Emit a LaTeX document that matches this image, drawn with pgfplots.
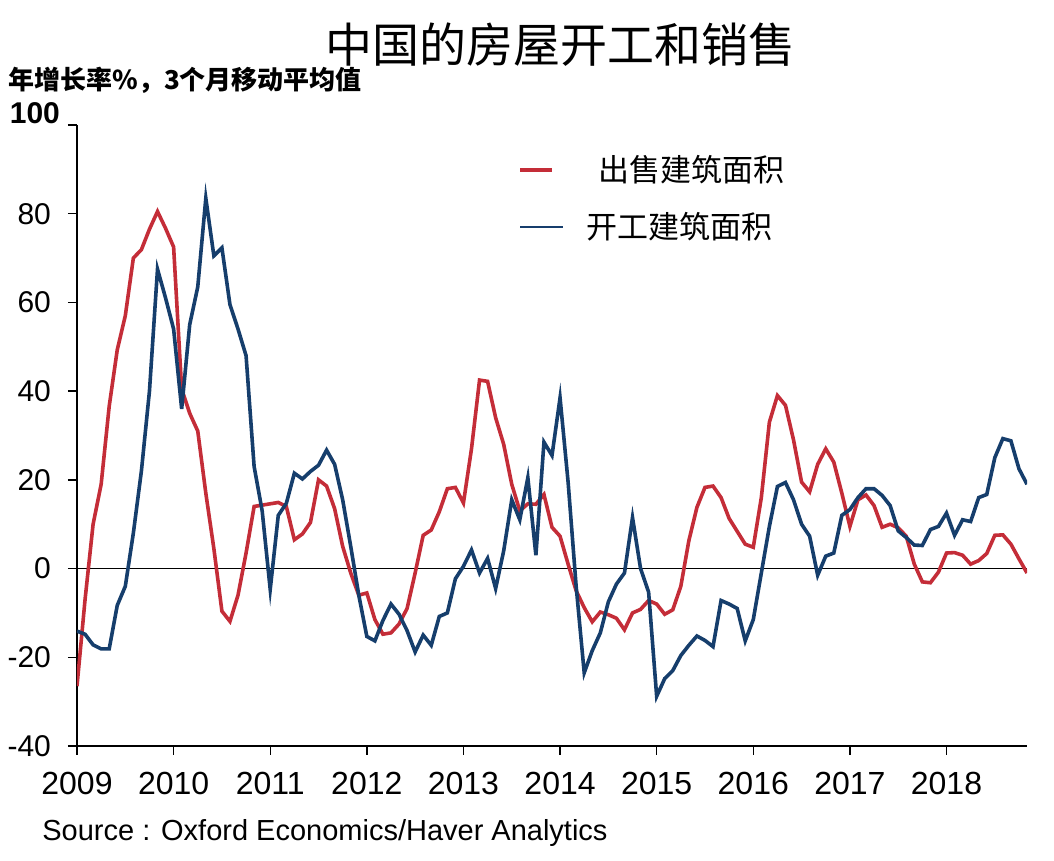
\documentclass[border=0pt]{standalone}
\usepackage{pgfplots}
\usepackage{pgfplotstable}
\pgfplotsset{compat=1.18}
\usepackage{fontspec}
\setmainfont{Liberation Sans}
\newfontfamily\cjk{Noto Sans CJK SC}

\definecolor{cRed}{RGB}{196,45,56}
\definecolor{cBlue}{RGB}{22,62,108}

% month index from Jan 2009, floor space sold (red), floor space started (blue)
\pgfplotstableread{
m red blue
0 -26.5 -14.1
1 -7.0 -14.8
2 10.0 -17.2
3 19.0 -18.1
4 36.6 -18.1
5 49.3 -8.3
6 57.0 -4.0
7 70.0 8.0
8 71.9 22.0
9 76.5 40.0
10 80.5 67.5
11 76.7 61.0
12 72.5 54.0
13 40.5 36.0
14 35.0 55.0
15 31.0 63.5
16 17.0 83.5
17 4.5 70.5
18 -9.6 72.3
19 -11.9 59.5
20 -6.0 54.0
21 3.5 48.0
22 14.0 23.0
23 14.3 13.0
24 14.6 -4.7
25 14.9 12.0
26 14.0 14.7
27 6.5 21.5
28 7.8 20.2
29 10.4 21.9
30 20.0 23.3
31 18.6 26.7
32 13.5 23.5
33 5.0 15.5
34 -1.0 5.0
35 -6.0 -6.0
36 -5.5 -15.3
37 -11.5 -16.3
38 -14.8 -11.7
39 -14.5 -8.0
40 -12.5 -10.3
41 -9.0 -14.0
42 -1.0 -18.8
43 7.5 -15.0
44 8.7 -17.3
45 12.8 -10.8
46 18.0 -10.0
47 18.3 -2.3
48 14.8 0.5
49 27.0 4.2
50 42.5 -1.0
51 42.2 2.3
52 34.0 -4.5
53 28.0 4.0
54 19.0 15.5
55 13.0 11.0
56 14.6 20.5
57 14.5 3.0
58 16.7 28.5
59 9.3 25.5
60 7.3 38.5
61 1.0 19.5
62 -5.0 -4.0
63 -8.8 -23.5
64 -12.0 -18.5
65 -9.8 -14.5
66 -10.4 -7.5
67 -11.2 -3.5
68 -13.8 -1.0
69 -10.0 11.5
70 -9.2 0.0
71 -7.2 -5.3
72 -8.0 -28.8
73 -10.3 -24.8
74 -9.3 -23.0
75 -4.0 -19.6
76 6.3 -17.3
77 13.8 -15.2
78 18.3 -16.2
79 18.6 -17.6
80 16.0 -7.2
81 11.3 -8.0
82 8.4 -9.0
83 5.5 -16.3
84 4.8 -11.5
85 16.0 -1.0
86 33.0 9.5
87 39.0 18.5
88 36.8 19.4
89 29.0 15.5
90 19.5 10.0
91 17.3 7.3
92 23.5 -1.5
93 27.0 2.8
94 24.0 3.5
95 17.0 12.0
96 9.5 13.3
97 15.5 16.0
98 16.6 18.0
99 14.2 18.0
100 9.3 16.5
101 10.0 14.2
102 9.2 8.5
103 7.3 7.0
104 1.0 5.3
105 -3.0 5.2
106 -3.2 8.8
107 -0.8 9.5
108 3.5 12.5
109 3.6 7.5
110 3.0 11.0
111 1.0 10.6
112 1.8 16.0
113 3.4 16.7
114 7.5 25.0
115 7.6 29.3
116 5.5 28.8
117 2.2 22.5
118 -1.0 19.0
}\housing

\begin{document}
\begin{tikzpicture}
\path[use as bounding box] (0,0) rectangle (527pt,430.5pt);
\begin{axis}[
    at={(38.5pt,57.5pt)}, anchor=south west,
    width=475pt, height=310.5pt, scale only axis,
    xmin=0, xmax=118, ymin=-40, ymax=100,
    axis x line*=bottom, axis y line*=left,
    axis line style={-, black, line width=0.75pt},
    tick align=outside, major tick length=4.5pt,
    tick style={black, line width=0.7pt},
    xtick={0,12,...,108},
    xticklabels={2009,2010,2011,2012,2013,2014,2015,2016,2017,2018},
    ytick={-40,-20,0,20,40,60,80},
    yticklabels={-40,-20,0,20,40,60,80},
    extra y ticks={100},
    extra y tick labels={\textbf{100}},
    extra y tick style={yticklabel style={xshift=4.5pt, yshift=6pt}},
    xticklabel style={font=\fontsize{16}{18}\selectfont, yshift=-5pt},
    yticklabel style={font=\fontsize{15}{18}\selectfont, xshift=-5pt},
    legend style={at={(0.458,0.965)}, anchor=north west, draw=none, fill=none,
        font=\cjk\fontsize{15.5}{18}\selectfont, row sep=10pt},
    legend cell align=left,
]
\addplot[black, line width=0.6pt, forget plot] coordinates {(0,0) (118,0)};
\addplot[cRed, line width=1.8pt, forget plot] table[x=m, y=red] {\housing};
\addplot[cBlue, line width=1.8pt, forget plot] table[x=m, y=blue] {\housing};
\addlegendimage{legend image code/.code={\draw[cRed, line width=2pt] (0pt,0pt) -- (16pt,0pt);}}
\addlegendentry{\hspace{15pt}出售建筑面积}
\addlegendimage{legend image code/.code={\draw[cBlue, line width=1pt] (0pt,0pt) -- (21.5pt,0pt);}}
\addlegendentry{\hspace{9pt}开工建筑面积}
\end{axis}
\node[font=\cjk\fontsize{23.5}{28}\selectfont] at (280pt,408pt) {中国的房屋开工和销售};
\node[anchor=west, inner sep=0pt, font=\cjk\bfseries\fontsize{13}{15}\selectfont] at (4pt,390.5pt) {年增长率\%，3个月移动平均值};
\node[anchor=west, inner sep=0pt, font=\fontsize{14.5}{17}\selectfont] at (21pt,14pt) {Source : Oxford Economics/Haver Analytics};
\end{tikzpicture}
\end{document}
